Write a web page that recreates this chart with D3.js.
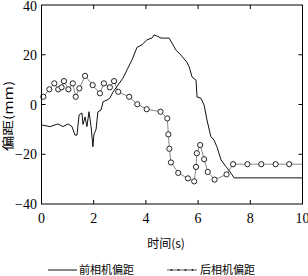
<!DOCTYPE html>
<html><head><meta charset="utf-8">
<script src="https://cdn.jsdelivr.net/npm/d3@7/dist/d3.min.js"></script>
<style>body{margin:0;background:#fff}svg{display:block}</style>
</head><body>
<svg id="c" width="308" height="276"></svg>
<script>
const xTicks = [0, 2, 4, 6, 8, 10];
const yTicks = [-40, -20, 0, 20, 40];
const frontX = [0,0.33,0.63,0.82,1.02,1.17,1.28,1.36,1.44,1.55,1.59,1.67,1.74,1.82,1.9,1.97,2.01,2.09,2.16,2.28,2.36,2.51,2.62,2.74,2.93,3.12,3.28,3.47,3.66,3.85,4.04,4.23,4.31,4.43,4.58,4.89,5.0,5.15,5.34,5.57,5.66,5.77,5.92,5.96,6.11,6.23,6.34,6.49,6.61,6.72,6.88,7.07,7.22,7.38,10];
const frontY = [-8.2,-8.9,-7.8,-8.9,-7.8,-8.9,-12.3,-12.3,-4.2,-3.4,-8,-5,-8.9,-2.9,-8.9,-17,-12,-10,-3,-2.2,1.1,1.8,2.6,5,7.8,10.6,14,18,23,24,26,26.7,28,27.5,26.7,26.7,24.7,21.9,19.9,17,15.1,11,9.8,3,2.5,-0.2,-6.2,-13,-14.3,-17,-22.3,-25,-27,-29.5,-29.5];
const rearX = [0.07,0.3,0.49,0.64,0.77,0.86,1.03,1.2,1.31,1.45,1.67,1.96,2.24,2.39,2.62,2.78,2.94,3.36,3.67,4.03,4.56,4.82,4.86,4.9,4.96,5.24,5.61,5.85,5.92,5.95,6.08,6.23,6.37,6.63,7.09,7.34,7.89,8.42,8.97,9.49];
const rearY = [3.1,6.1,8.5,6.1,6.9,9.4,6.1,8.5,3.1,6.5,11.5,7.8,4.5,8.5,6.9,9.4,5.1,3.1,0.1,-1.9,-2.9,-5.6,-12,-17.8,-23.3,-27.5,-29.7,-30.9,-25.1,-19.6,-16.3,-22,-27.1,-30.2,-28.1,-24,-24,-24,-24,-24];
const rearEndX = 10, rearEndY = -24;
const legendLabels = ["前相机偏距", "后相机偏距"];
const xLabel = "时间(s)", yLabel = "偏距(mm)";

const svg = d3.select("#c");
const L = 41.5, R = 302.5, T = 5, B = 204;
const x = d3.scaleLinear().domain([0, 10]).range([L, R]);
const y = d3.scaleLinear().domain([-40, 40]).range([B, T]);
const serif = "'Liberation Serif','Times New Roman',serif";
const cjk = "'Noto Sans CJK SC',sans-serif";

// ticks inside
const ax = svg.append("g").attr("stroke", "#000").attr("stroke-width", 1);
xTicks.slice(1, -1).forEach(t => {
  ax.append("line").attr("x1", x(t)).attr("x2", x(t)).attr("y1", B).attr("y2", B - 4);
  ax.append("line").attr("x1", x(t)).attr("x2", x(t)).attr("y1", T).attr("y2", T + 4);
});
yTicks.slice(1, -1).forEach(t => {
  ax.append("line").attr("x1", L).attr("x2", L + 4).attr("y1", y(t)).attr("y2", y(t));
  ax.append("line").attr("x1", R).attr("x2", R - 4).attr("y1", y(t)).attr("y2", y(t));
});

// data lines
const front = frontX.map((v, i) => [v, frontY[i]]);
const rear = rearX.map((v, i) => [v, rearY[i]]).concat([[rearEndX, rearEndY]]);
const line = d3.line().x(d => x(d[0])).y(d => y(d[1]));
svg.append("path").attr("d", line(rear)).attr("fill", "none").attr("stroke", "#888").attr("stroke-width", 1);
svg.append("path").attr("d", line(front)).attr("fill", "none").attr("stroke", "#111").attr("stroke-width", 1);
svg.append("g").selectAll("circle").data(rearX.map((v, i) => [v, rearY[i]])).join("circle")
  .attr("cx", d => x(d[0])).attr("cy", d => y(d[1])).attr("r", 2.6)
  .attr("fill", "#fff").attr("stroke", "#222").attr("stroke-width", 1);

// frame
svg.append("rect").attr("x", L).attr("y", T).attr("width", R - L).attr("height", B - T)
  .attr("fill", "none").attr("stroke", "#000").attr("stroke-width", 1);

// tick labels
svg.append("g").selectAll("text").data(xTicks).join("text")
  .attr("x", d => x(d)).attr("y", 223).attr("text-anchor", "middle")
  .attr("font-family", serif).attr("font-size", 14).text(d => d);
svg.append("g").selectAll("text").data(yTicks).join("text")
  .attr("x", 37).attr("y", d => Math.max(y(d) + 5, 11)).attr("text-anchor", "end")
  .attr("font-family", serif).attr("font-size", 14).text(d => d < 0 ? "\u2212" + Math.abs(d) : d);

// axis labels
svg.append("text").attr("x", 166).attr("y", 248).attr("text-anchor", "middle")
  .attr("font-family", cjk).attr("font-size", 12).text(xLabel);
svg.append("text").attr("transform", "translate(13,116) rotate(-90) scale(1.3,1)").attr("text-anchor", "middle")
  .attr("font-family", cjk).attr("font-size", 12).text(yLabel);

// legend
const ly = 270;
svg.append("line").attr("x1", 48).attr("x2", 77).attr("y1", ly).attr("y2", ly).attr("stroke", "#111");
svg.append("text").attr("x", 79).attr("y", ly + 4).attr("font-family", cjk).attr("font-size", 11).text(legendLabels[0]);
svg.append("line").attr("x1", 167).attr("x2", 197).attr("y1", ly).attr("y2", ly).attr("stroke", "#555");
[170, 177, 184, 191].forEach(px => svg.append("circle").attr("cx", px + 1.5).attr("cy", ly).attr("r", 1).attr("fill", "#222"));
svg.append("text").attr("x", 200).attr("y", ly + 4).attr("font-family", cjk).attr("font-size", 11).text(legendLabels[1]);
</script>
</body></html>
